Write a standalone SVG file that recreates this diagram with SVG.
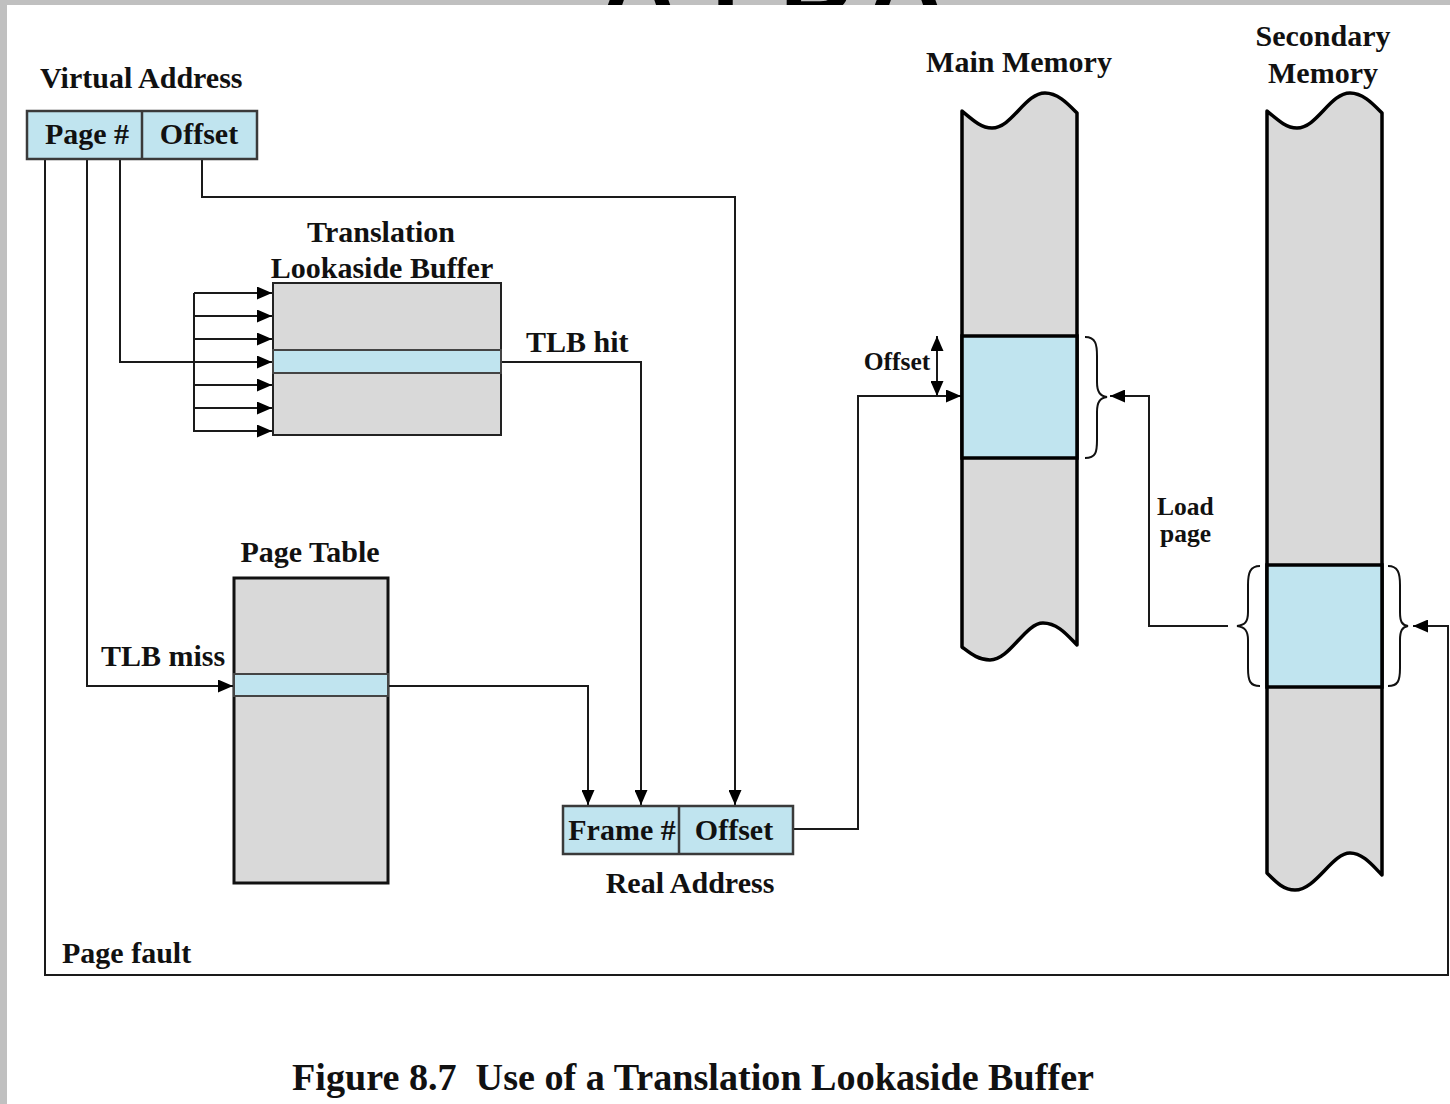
<svg xmlns="http://www.w3.org/2000/svg" width="1450" height="1104" viewBox="0 0 1450 1104">
  <defs>
    <marker id="ah" markerWidth="15" markerHeight="13" refX="15" refY="6.5" orient="auto" markerUnits="userSpaceOnUse">
      <path d="M0,0 L15,6.5 L0,13 z" fill="#000"/>
    </marker>
    <marker id="ah2" markerWidth="15" markerHeight="13" refX="15" refY="6.5" orient="auto-start-reverse" markerUnits="userSpaceOnUse">
      <path d="M0,0 L15,6.5 L0,13 z" fill="#000"/>
    </marker>
  </defs>
  <style>
    .lbl { font-family: "Liberation Serif", "Times New Roman", serif; font-weight: bold; font-size: 30px; fill: #111; }
    .sm { font-size: 25.5px; }
    .cap { font-size: 38px; }
    .blue { fill: #c0e4ef; }
    .cell { stroke: #3a3a3a; stroke-width: 2.5; }
    .gray { fill: #d9d9d9; }
    .mem { fill: #d9d9d9; stroke: #000; stroke-width: 3.5; stroke-linejoin: round; }
    .wire { fill: none; stroke: #1a1a1a; stroke-width: 2; }
    .brace { fill: none; stroke: #111; stroke-width: 2; }
  </style>

  <!-- page frame -->
  <rect x="0" y="0" width="1450" height="1104" fill="#c0c0c0"/>
  <text x="603" y="12" font-family="Liberation Sans, Arial, sans-serif" font-weight="bold" font-size="100" fill="#000"><tspan x="603">A</tspan><tspan x="695">T</tspan><tspan x="780">B</tspan><tspan x="870">A</tspan></text>
  <rect x="7" y="5" width="1443" height="1099" fill="#fff"/>

  <!-- connectors -->
  <g id="connectors">
    <!-- page number to TLB -->
    <polyline class="wire" points="120,159 120,362 272,362" marker-end="url(#ah)"/>
    <!-- TLB fan-in -->
    <polyline class="wire" points="194,293 194,432"/>
    <line class="wire" x1="194" y1="293" x2="272" y2="293" marker-end="url(#ah)"/>
    <line class="wire" x1="194" y1="316" x2="272" y2="316" marker-end="url(#ah)"/>
    <line class="wire" x1="194" y1="339" x2="272" y2="339" marker-end="url(#ah)"/>
    <line class="wire" x1="194" y1="385" x2="272" y2="385" marker-end="url(#ah)"/>
    <line class="wire" x1="194" y1="408" x2="272" y2="408" marker-end="url(#ah)"/>
    <line class="wire" x1="194" y1="431" x2="272" y2="431" marker-end="url(#ah)"/>
    <!-- offset straight to real address -->
    <polyline class="wire" points="202,159 202,197 735,197 735,805" marker-end="url(#ah)"/>
    <!-- TLB hit -->
    <polyline class="wire" points="501,362 641,362 641,805" marker-end="url(#ah)"/>
    <!-- TLB miss -->
    <polyline class="wire" points="87,159 87,686 233,686" marker-end="url(#ah)"/>
    <!-- page table to frame -->
    <polyline class="wire" points="388,686 588,686 588,805" marker-end="url(#ah)"/>
    <!-- real address to main memory -->
    <polyline class="wire" points="793,829 858,829 858,396 961,396" marker-end="url(#ah)"/>
    <!-- offset within frame -->
    <line class="wire" x1="937" y1="396" x2="937" y2="336" marker-start="url(#ah2)" marker-end="url(#ah2)"/>
    <!-- page fault -->
    <polyline class="wire" points="45,159 45,975 1448,975 1448,626 1413,626" marker-end="url(#ah)"/>
    <!-- load page -->
    <polyline class="wire" points="1228,626 1149,626 1149,396 1110,396" marker-end="url(#ah)"/>
  </g>

  <!-- virtual address -->
  <g id="virtual-address">
    <text class="lbl" x="40" y="88">Virtual Address</text>
    <rect class="blue cell" x="27" y="111" width="230" height="48"/>
    <line class="cell" x1="142" y1="111" x2="142" y2="159"/>
    <text class="lbl" x="87" y="144" text-anchor="middle">Page #</text>
    <text class="lbl" x="199" y="144" text-anchor="middle">Offset</text>
  </g>

  <!-- translation lookaside buffer -->
  <g id="tlb">
    <text class="lbl" x="381" y="242" text-anchor="middle">Translation</text>
    <text class="lbl" x="382" y="278" text-anchor="middle">Lookaside Buffer</text>
    <rect class="gray" x="273" y="283" width="228" height="152" stroke="#222" stroke-width="2"/>
    <rect class="blue" x="273" y="350" width="228" height="23" stroke="#444" stroke-width="2"/>
  </g>
  <text class="lbl" x="526" y="352">TLB hit</text>

  <!-- page table -->
  <g id="page-table">
    <text class="lbl" x="310" y="562" text-anchor="middle">Page Table</text>
    <rect class="gray" x="234" y="578" width="154" height="305" stroke="#111" stroke-width="3"/>
    <rect class="blue" x="234" y="674" width="154" height="22" stroke="#444" stroke-width="2"/>
  </g>
  <text class="lbl" x="101" y="666">TLB miss</text>

  <!-- real address -->
  <g id="real-address">
    <rect class="blue cell" x="563" y="806" width="230" height="48"/>
    <line class="cell" x1="679" y1="806" x2="679" y2="854"/>
    <text class="lbl" x="622" y="840" text-anchor="middle">Frame #</text>
    <text class="lbl" x="734" y="840" text-anchor="middle">Offset</text>
    <text class="lbl" x="690" y="893" text-anchor="middle">Real Address</text>
  </g>

  <!-- main memory -->
  <g id="main-memory">
    <text class="lbl" x="1019" y="72" text-anchor="middle">Main Memory</text>
    <path class="mem" d="M962,111 C975,122 982,128 992,128 C1012,128 1025,93 1045,93 C1058,93 1068,104 1077,113 L1077,645 C1068,636 1058,623 1043,623 C1025,623 1010,660 990,660 C978,660 970,653 962,647 Z"/>
    <rect class="blue" x="962" y="336" width="115" height="122" stroke="#000" stroke-width="3.5"/>
    <text class="lbl sm" x="897" y="370" text-anchor="middle">Offset</text>
    <path class="brace" d="M1085,337 C1096,337 1097,345 1097,356 L1097,382 C1097,392 1100,396 1107,397 C1100,398 1097,402 1097,412 L1097,440 C1097,452 1096,458 1085,458"/>
  </g>

  <!-- secondary memory -->
  <g id="secondary-memory">
    <text class="lbl" x="1323" y="46" text-anchor="middle">Secondary</text>
    <text class="lbl" x="1323" y="83" text-anchor="middle">Memory</text>
    <path class="mem" d="M1267,111 C1280,122 1287,128 1297,128 C1317,128 1330,93 1350,93 C1363,93 1373,104 1382,113 L1382,875 C1373,866 1363,853 1350,853 C1332,853 1316,890 1295,890 C1283,890 1275,881 1267,873 Z"/>
    <rect class="blue" x="1267" y="565" width="115" height="122" stroke="#000" stroke-width="3.5"/>
    <path class="brace" d="M1260,566 C1250,566 1248,573 1248,585 L1248,612 C1248,622 1245,625 1237,626 C1245,627 1248,631 1248,640 L1248,668 C1248,681 1250,686 1260,686"/>
    <path class="brace" d="M1388,566 C1398,566 1400,573 1400,585 L1400,612 C1400,622 1402,625 1408,626 C1402,627 1400,631 1400,640 L1400,668 C1400,681 1398,686 1388,686"/>
  </g>
  <text class="lbl sm" x="1157" y="515">Load</text>
  <text class="lbl sm" x="1160" y="542">page</text>

  <text class="lbl" x="62" y="963">Page fault</text>

  <text class="lbl cap" x="292" y="1090" textLength="802" lengthAdjust="spacingAndGlyphs">Figure 8.7&#160; Use of a Translation Lookaside Buffer</text>
</svg>
